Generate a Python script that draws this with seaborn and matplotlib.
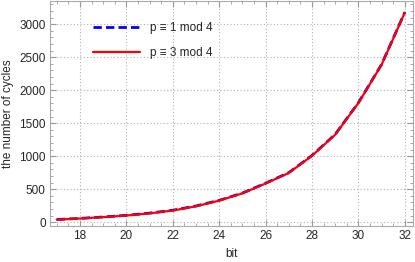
import numpy as np
import pandas as pd
import matplotlib
matplotlib.use('Agg')
import matplotlib.pyplot as plt
from matplotlib.ticker import MultipleLocator
import seaborn as sns

# datos
bits = [17, 18, 19, 20, 21, 22, 23, 24, 25, 26, 27, 28, 29, 30, 31, 32]
ciclos_p1 = [40, 57, 78, 103, 137, 180, 245, 330, 440, 590, 750, 1010, 1330, 1810, 2390, 3180]
ciclos_p3 = [38, 55, 76, 100, 133, 176, 240, 326, 436, 585, 745, 1005, 1325, 1805, 2385, 3175]
etiquetas = ['p \u2261 1 mod 4', 'p \u2261 3 mod 4']

df = pd.DataFrame({'bit': bits * 2,
                   'cycles': ciclos_p1 + ciclos_p3,
                   'serie': [etiquetas[0]] * len(bits) + [etiquetas[1]] * len(bits)})

sns.set_style('ticks')
plt.rcParams['font.family'] = ['Liberation Sans', 'DejaVu Sans']

fig, ax = plt.subplots(figsize=(4.15, 2.62), dpi=100)
fig.subplots_adjust(left=0.12, right=0.995, top=0.996, bottom=0.137)

sns.lineplot(data=df[df.serie == etiquetas[0]], x='bit', y='cycles', color='#0000ff',
             linestyle=(0, (3, 1.5)), linewidth=2, label=etiquetas[0], ax=ax)
sns.lineplot(data=df[df.serie == etiquetas[1]], x='bit', y='cycles', color='#ff0000',
             linewidth=1.6, label=etiquetas[1], ax=ax)

ax.set_xlim(16.7, 32.35)
ax.set_ylim(-60, 3350)
ax.xaxis.set_major_locator(MultipleLocator(2))
ax.xaxis.set_minor_locator(MultipleLocator(0.5))
ax.yaxis.set_major_locator(MultipleLocator(500))
ax.yaxis.set_minor_locator(MultipleLocator(100))
ax.tick_params(which='both', direction='in', top=True, right=True, color='#999999',
               labelsize=8.5, pad=3)
ax.tick_params(which='major', length=4)
ax.tick_params(which='minor', length=2)
for s in ax.spines.values():
    s.set_color('#aaaaaa')
ax.grid(True, which='major', linestyle=(0, (1, 2)), color='#b0b0b0', linewidth=0.8)

ax.set_xlabel('bit', fontsize=8.5)
ax.set_ylabel('the number of cycles', fontsize=8.5, labelpad=4)

ax.legend(loc='upper left', bbox_to_anchor=(0.09, 0.955), frameon=False, fontsize=8.5,
          handlelength=4, labelspacing=1.1)

fig.savefig('out.png', dpi=100)
